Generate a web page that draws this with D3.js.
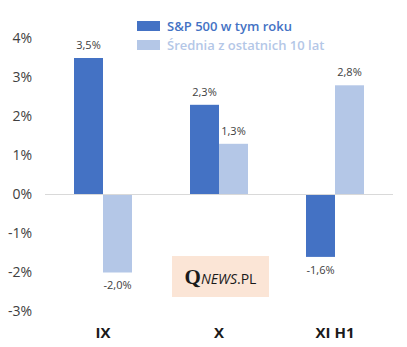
<!DOCTYPE html>
<html>
<head>
<meta charset="utf-8">
<script src="https://cdn.jsdelivr.net/npm/d3@7"></script>
<style>
  body { margin: 0; background: #fff; }
  svg { font-family: "Open Sans", "Liberation Sans", sans-serif; }
</style>
</head>
<body>
<div id="chart"></div>
<script>
var categories = ['IX', 'X', 'XI H1'];
var seriesNames = ['S&P 500 w tym roku', 'Średnia z ostatnich 10 lat'];
var sp500 = [3.5, 2.3, -1.6];
var avg10 = [-2.0, 1.3, 2.8];
var yTicks = [4, 3, 2, 1, 0, -1, -2, -3];

var colors = ['#4472C4', '#B4C7E7'];
var width = 407, height = 347;

var svg = d3.select('#chart').append('svg')
  .attr('width', width)
  .attr('height', height);

var x0 = d3.scaleBand()
  .domain(categories)
  .range([45, 393])
  .paddingInner(0.5)
  .paddingOuter(0.25);

var x1 = d3.scaleBand()
  .domain([0, 1])
  .range([0, x0.bandwidth()]);

var y = d3.scaleLinear()
  .domain([-3, 4])
  .range([311.5, 38.5]);

var fmt = function(v) { return v.toFixed(1).replace('.', ',') + '%'; };

// y labels
svg.append('g').selectAll('text')
  .data(yTicks)
  .enter().append('text')
  .attr('x', 32)
  .attr('y', function(d) { return y(d); })
  .attr('dy', '0.35em')
  .attr('text-anchor', 'end')
  .attr('font-size', 14)
  .attr('fill', '#404040')
  .text(function(d) { return d + '%'; });

// watermark
var wm = svg.append('g');
wm.append('rect')
  .attr('x', 172).attr('y', 256)
  .attr('width', 97).attr('height', 41)
  .attr('fill', '#FBE5D6');
var wt = wm.append('text')
  .attr('x', 220.5).attr('y', 284)
  .attr('text-anchor', 'middle')
  .attr('fill', '#1a1a1a');
wt.append('tspan')
  .attr('font-family', '"Liberation Serif", "DejaVu Serif", serif')
  .attr('font-weight', 'bold')
  .attr('font-size', 21)
  .text('Q');
wt.append('tspan')
  .attr('font-style', 'italic')
  .attr('font-size', 14)
  .text('NEWS');
wt.append('tspan')
  .attr('font-size', 14)
  .text('.PL');

var data = categories.map(function(c, i) {
  return { cat: c, values: [sp500[i], avg10[i]] };
});

var groups = svg.append('g').selectAll('g')
  .data(data)
  .enter().append('g')
  .attr('transform', function(d) { return 'translate(' + x0(d.cat) + ',0)'; });

groups.selectAll('rect')
  .data(function(d) { return d.values; })
  .enter().append('rect')
  .attr('x', function(d, i) { return x1(i); })
  .attr('y', function(d) { return y(Math.max(0, d)); })
  .attr('width', x1.bandwidth())
  .attr('height', function(d) { return Math.abs(y(d) - y(0)); })
  .attr('fill', function(d, i) { return colors[i]; });

groups.selectAll('text')
  .data(function(d) { return d.values; })
  .enter().append('text')
  .attr('x', function(d, i) { return x1(i) + x1.bandwidth() / 2; })
  .attr('y', function(d) { return d >= 0 ? y(d) - 13 : y(d) + 13; })
  .attr('dy', '0.35em')
  .attr('text-anchor', 'middle')
  .attr('font-size', 11)
  .attr('fill', '#404040')
  .text(fmt);

// zero line
svg.append('line')
  .attr('x1', 45).attr('x2', 393)
  .attr('y1', y(0)).attr('y2', y(0))
  .attr('stroke', '#D9D9D9')
  .attr('stroke-width', 1);

// x labels
svg.append('g').selectAll('text')
  .data(categories)
  .enter().append('text')
  .attr('x', function(d) { return x0(d) + x0.bandwidth() / 2; })
  .attr('y', 333)
  .attr('dy', '0.35em')
  .attr('text-anchor', 'middle')
  .attr('font-size', 15)
  .attr('font-weight', 'bold')
  .attr('fill', '#1a1a1a')
  .text(function(d) { return d; });

// legend
var legend = svg.append('g').selectAll('g')
  .data(seriesNames)
  .enter().append('g')
  .attr('transform', function(d, i) { return 'translate(137,' + (21 + i * 19) + ')'; });

legend.append('rect')
  .attr('width', 23).attr('height', 10)
  .attr('fill', function(d, i) { return colors[i]; });

legend.append('text')
  .attr('x', 30).attr('y', 5)
  .attr('dy', '0.35em')
  .attr('font-size', 13)
  .attr('font-weight', 600)
  .attr('fill', function(d, i) { return colors[i]; })
  .text(function(d) { return d; });
</script>
</body>
</html>
